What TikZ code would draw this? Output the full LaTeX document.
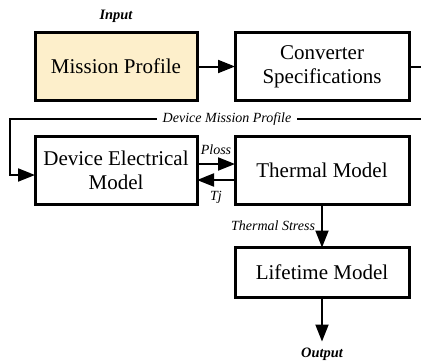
\documentclass[tikz,border=0pt]{standalone}
\usepackage{fontspec}
\setmainfont{Liberation Serif}
\newfontfamily\boxfont{Liberation Serif}
\usetikzlibrary{positioning,arrows.meta,calc}
\definecolor{mpfill}{HTML}{FDEFCB}

\begin{document}
\begin{tikzpicture}[node distance=18pt and 19pt,
box/.style={draw,line width=1.5pt,outer sep=0pt,minimum width=81pt,minimum height=34pt,align=center,font=\boxfont\fontsize{10.5}{12}\selectfont,inner sep=2pt},
wbox/.style={box,minimum width=87pt},
lbl/.style={font=\boxfont\fontsize{7}{8}\selectfont\itshape,inner sep=1pt},
io/.style={font=\boxfont\fontsize{7.2}{8}\selectfont\bfseries\itshape,inner sep=1pt},
arr/.style={-{Triangle[length=8.5pt,width=6.5pt]},line width=1pt}]
\clip (0,0) rectangle (210.5pt,-180.5pt);
\node[box,fill=mpfill] (mp) at (58pt,-33.25pt) {Mission Profile};
\node[wbox,right=of mp] (cs) {Converter\\Specifications};
\node[box,below=of mp] (dem) {Device Electrical\\Model};
\node[wbox,below=of cs] (tm) {Thermal Model};
\node[wbox,minimum height=25pt,below=21.5pt of tm] (lm) {Lifetime Model};
\node[io,above=4pt of mp] (in) {Input};
\coordinate (out) at ($(lm.south)+(0,-22pt)$);
\node[io,below=2pt of out] (outlbl) {Output};
\draw[arr] (mp) -- (cs);
\draw[arr] (cs.east) -- ++(10pt,0) |- (5pt,-59.5pt) |- ([yshift=-2.25pt]dem.west);
\node[lbl,fill=white,inner xsep=3pt] (dmp) at (113.5pt,-59.5pt) {Device Mission Profile};
\draw[arr] ([yshift=3.25pt]dem.east) -- node[lbl,above=3pt] (ploss) {Ploss} ([yshift=3.25pt]dem.east -| tm.west);
\draw[arr] ([yshift=-4.75pt]dem.east -| tm.west) -- node[lbl,below=4pt] (tj) {Tj} ([yshift=-4.75pt]dem.east);
\draw[arr] (tm) -- node[lbl,left=2pt] (ts) {Thermal Stress} (lm);
\draw[arr] (lm) -- (out);
\end{tikzpicture}
\end{document}
